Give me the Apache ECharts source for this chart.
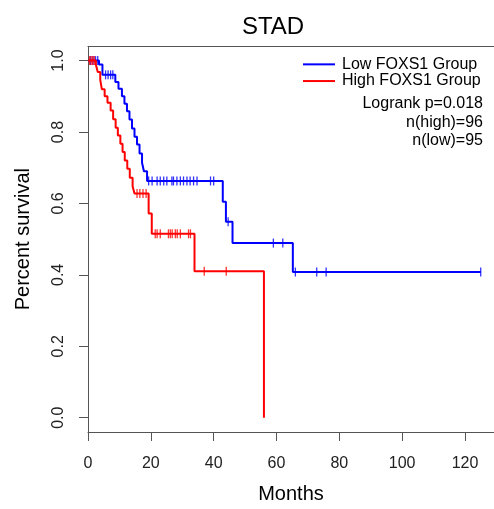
<!DOCTYPE html>
<html>
<head>
<meta charset="utf-8">
<script src="https://cdn.jsdelivr.net/npm/echarts@6/dist/echarts.min.js"></script>
<style>
html,body{margin:0;padding:0;background:#fff;}
#chart{width:494px;height:509px;}
</style>
</head>
<body>
<div id="chart"></div>
<script>
// ---- Data ----
const lowName = 'Low FOXS1 Group';
const highName = 'High FOXS1 Group';
// Low group: event times (months) and survival after each step
const lowTimes = [0, 3.5, 4.6, 8.7, 9.7, 10.8, 11.6, 12.4, 13.2, 14.0, 14.8, 15.6, 16.4, 17.2, 17.8, 18.8, 42.9, 43.9, 46.0, 65.2, 125];
const lowSurv  = [1.0, 0.989, 0.96, 0.94, 0.921, 0.90, 0.879, 0.858, 0.835, 0.81, 0.787, 0.765, 0.74, 0.714, 0.69, 0.663, 0.605, 0.549, 0.489, 0.408, 0.408];
const lowCensor = [0.8, 1.6, 2.4, 3.1, 5.6, 6.4, 7.2, 7.9, 19.3, 20.4, 22, 23, 24.1, 25.1, 26.7, 27.2, 28.3, 29.4, 30.4, 31.5, 32.5, 33.6, 34.7, 39, 40, 44.6, 59, 62, 66, 72.8, 75.8, 125];
// High group
const highTimes = [0, 2.5, 3.1, 3.9, 4.4, 5.3, 6.2, 7.2, 8.0, 8.8, 9.5, 10.3, 11.0, 11.7, 12.5, 13.3, 14.2, 14.8, 19.3, 20.3, 33.9, 56.0];
const highSurv  = [1.0, 0.989, 0.968, 0.946, 0.92, 0.90, 0.882, 0.86, 0.836, 0.812, 0.79, 0.767, 0.744, 0.72, 0.697, 0.672, 0.648, 0.628, 0.572, 0.515, 0.41, 0.0];
const highCensor = [0.5, 1.0, 1.5, 2.0, 15.6, 16.5, 17.5, 18.5, 21.4, 22, 23, 25.6, 26.2, 26.8, 27.8, 28.4, 29.4, 32, 32.6, 37, 44];
const xTicks = [0, 20, 40, 60, 80, 100, 120];
const yTicks = [0, 0.2, 0.4, 0.6, 0.8, 1.0];
const statLines = ['Logrank p=0.018', 'n(high)=96', 'n(low)=95'];

const FONT = "'Liberation Sans', Arial, Helvetica, sans-serif";
const BLUE = '#0000ff', RED = '#ff0000';

function survAt(times, surv, t) {
  let s = surv[0];
  for (let i = 0; i < times.length; i++) { if (times[i] <= t) s = surv[i]; }
  return s;
}
const lowLine = lowTimes.map((t, i) => [t, lowSurv[i]]);
const highLine = highTimes.map((t, i) => [t, highSurv[i]]);
const lowMarks = lowCensor.map(t => [t, survAt(lowTimes, lowSurv, t)]);
const highMarks = highCensor.map(t => [t, survAt(highTimes, highSurv, t)]);

const chart = echarts.init(document.getElementById('chart'), null, {renderer: 'canvas'});
// the plotting box runs to the right edge of the (cropped) picture
const gridLeft = 88, gridTop = 46.3, gridW = 406, gridH = 388;
const pxPerMonth = 3.1417;
const AXIS = '#555';
chart.setOption({
  animation: false,
  backgroundColor: '#fff',
  textStyle: {fontFamily: FONT},
  title: {
    text: 'STAD', left: 268, top: 10, textAlign: 'center',
    textStyle: {fontFamily: FONT, fontSize: 24, fontWeight: 'normal', color: '#000'}
  },
  legend: {
    orient: 'vertical', left: 303, top: 56, itemGap: 0, padding: 0,
    itemWidth: 32, itemHeight: 2, icon: 'rect',
    data: [lowName, highName],
    textStyle: {fontFamily: FONT, fontSize: 16, color: '#000', lineHeight: 16.7, padding: [0, 0, 0, 2]}
  },
  grid: {left: gridLeft, top: gridTop, width: gridW, height: gridH, show: false},
  xAxis: [{
    type: 'value', min: 0, max: gridW / pxPerMonth,
    name: 'Months', nameLocation: 'middle', nameGap: 52,
    nameTextStyle: {fontFamily: FONT, fontSize: 20, color: '#000'},
    axisLine: {show: true, onZero: false, lineStyle: {color: AXIS, width: 1}},
    axisTick: {show: true, length: 9, lineStyle: {color: AXIS}, customValues: xTicks},
    axisLabel: {fontFamily: FONT, fontSize: 16, color: '#222', margin: 24, customValues: xTicks},
    splitLine: {show: false}
  }, {
    // top edge of the plotting box
    type: 'value', position: 'top', min: 0, max: gridW / pxPerMonth,
    axisLine: {show: true, onZero: false, lineStyle: {color: AXIS, width: 1}},
    axisTick: {show: false}, axisLabel: {show: false}, splitLine: {show: false}
  }],
  yAxis: {
    type: 'value', min: -0.04, max: 1.04,
    name: 'Percent survival', nameLocation: 'middle', nameGap: 55,
    nameTextStyle: {fontFamily: FONT, fontSize: 20, color: '#000'},
    axisLine: {show: true, onZero: false, lineStyle: {color: AXIS, width: 1}},
    axisTick: {show: true, length: 9, lineStyle: {color: AXIS}, customValues: yTicks},
    axisLabel: {fontFamily: FONT, fontSize: 16, color: '#222', margin: 21, rotate: 90,
      customValues: yTicks, formatter: v => v.toFixed(1)},
    splitLine: {show: false}
  },
  graphic: statLines.map((s, i) => ({
    type: 'text', right: 494 - 483, top: 96 + i * 18.5,
    style: {text: s, fontFamily: FONT, fontSize: 16, fill: '#000', textAlign: 'right'}
  })),
  series: [
    {name: lowName, type: 'line', step: 'end', data: lowLine, symbol: 'none', color: BLUE,
     lineStyle: {color: BLUE, width: 2}, z: 3},
    {name: highName, type: 'line', step: 'end', data: highLine, symbol: 'none', color: RED,
     lineStyle: {color: RED, width: 2}, z: 4},
    {name: lowName + ' censored', type: 'scatter', data: lowMarks, symbol: 'rect', symbolSize: [1.3, 9],
     itemStyle: {color: BLUE}, z: 3},
    {name: highName + ' censored', type: 'scatter', data: highMarks, symbol: 'rect', symbolSize: [1.3, 9],
     itemStyle: {color: RED}, z: 4}
  ]
});
</script>
</body>
</html>
